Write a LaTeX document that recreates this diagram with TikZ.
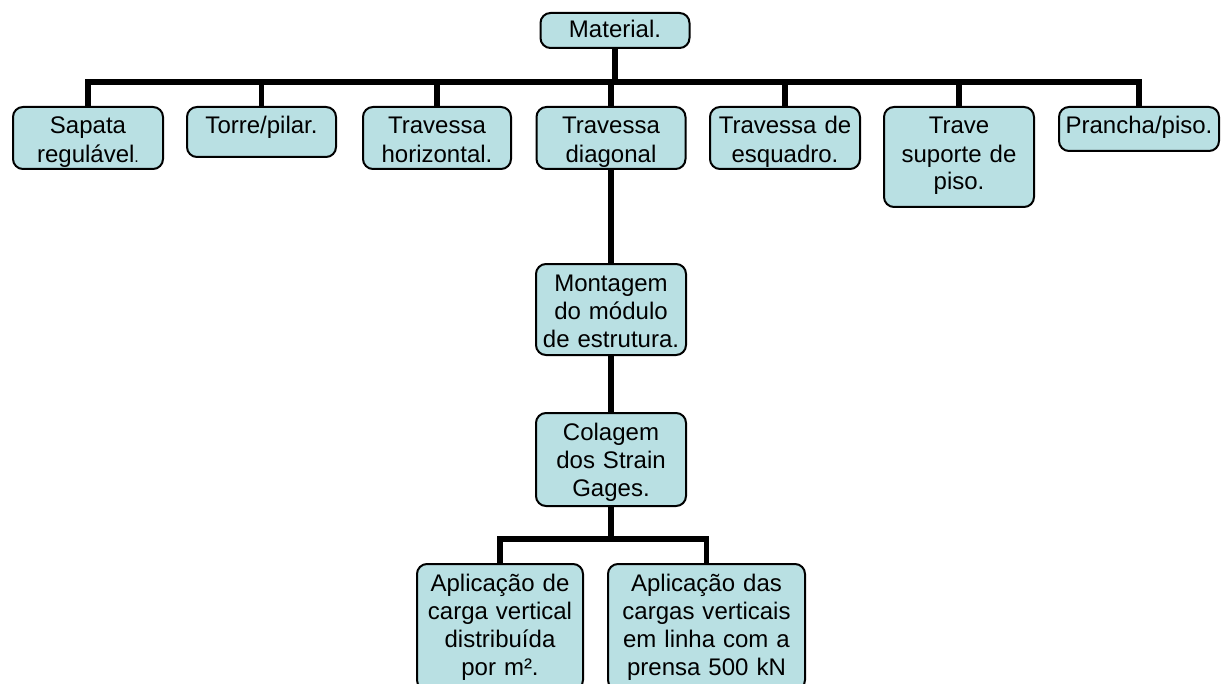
\documentclass[tikz,border=0pt]{standalone}
\usepackage{fontspec}
\setmainfont{Liberation Sans}
\definecolor{boxfill}{RGB}{185,224,227}

\begin{document}
\begin{tikzpicture}[x=0.5pt,y=-0.5pt,
  font=\fontsize{12}{14}\selectfont,
  box/.style={draw=black, line width=1pt, fill=boxfill, rounded corners=5pt,
    align=center, anchor=north, inner sep=0pt, text height=13.5pt},
  conn/.style={line width=2.8pt}]
  \useasboundingbox (0,0) rectangle (1224,684);

  % top level
  \node[box, text width=74.5pt, text height=12.5pt, text depth=5pt] (mat) at (615,12) {Material.};

  % materials
  \node[box, text width=75pt, text depth=17.5pt] (sap) at (88,106) {Sapata\\regulável{\fontsize{8}{8}\selectfont.}};
  \node[box, text width=74.5pt, text depth=11.5pt] (tor) at (261.5,106) {Torre/pilar.};
  \node[box, text width=74pt, text depth=17.5pt] (thor) at (437,106) {Travessa\\horizontal.};
  \node[box, text width=74.5pt, text depth=17.5pt] (tdia) at (611,106) {Travessa\\diagonal};
  \node[box, text width=75pt, text depth=17.5pt] (tesq) at (785,106) {Travessa de\\esquadro.};
  \node[box, text width=75pt, text depth=36.5pt] (trav) at (959,106) {Trave\\suporte de\\piso.};
  \node[box, text width=80pt, text depth=8.5pt] (pran) at (1139,106) {Prancha/piso.};

  % steps
  \node[box, text width=75pt, text depth=32pt] (mont) at (611,263) {Montagem\\do módulo\\de estrutura.};
  \node[box, text width=75pt, text depth=33pt] (col) at (611,412) {Colagem\\dos Strain\\Gages.};
  \node[box, text width=83pt, text depth=49.5pt] (apl1) at (500,563) {Aplicação de\\carga vertical\\distribuída\\por m².};
  \node[box, text width=98.5pt, text depth=49.5pt] (apl2) at (706.5,563) {Aplicação das\\cargas verticais\\em linha com a\\prensa 500 kN};

  \coordinate (bus) at (615,82);
  \coordinate (bus2) at (611,539);

  \foreach \n in {sap,tor,thor,tdia,tesq,trav,pran}
    \draw[conn] (mat.south) |- (bus) -| (\n.north);
  \draw[conn] (tdia.south) -- (mont.north);
  \draw[conn] (mont.south) -- (col.north);
  \foreach \n in {apl1,apl2}
    \draw[conn] (col.south) |- (bus2) -| (\n.north);
\end{tikzpicture}
\end{document}
